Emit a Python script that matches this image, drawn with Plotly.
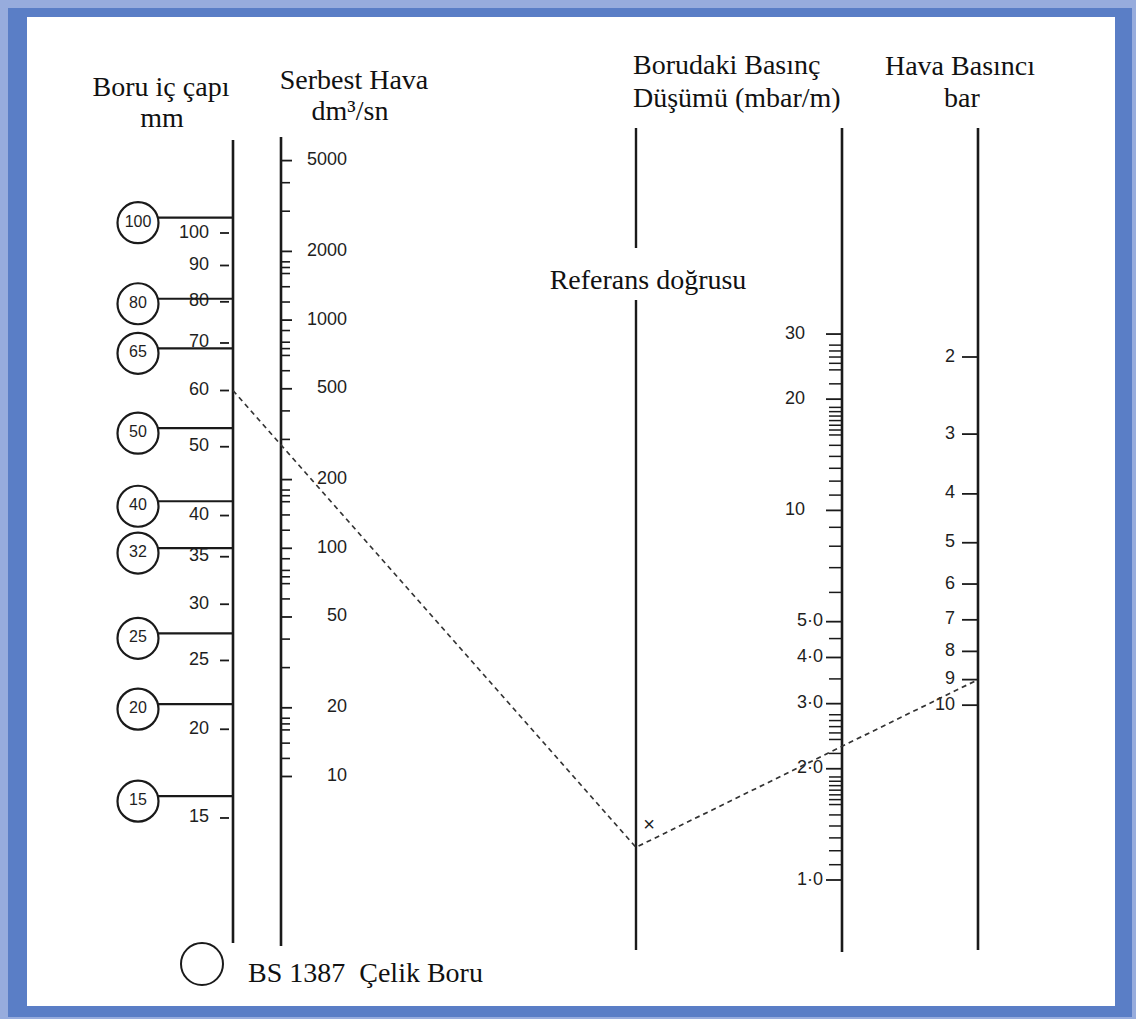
import numpy as np
import plotly.graph_objects as go

# ---------------- data ----------------
# Boru iç çapı (mm) scale labels
pipe_label_vals = [100, 90, 80, 70, 60, 50, 40, 35, 30, 25, 20, 15]
# BS 1387 nominal sizes and their inner diameters (mm)
pipe_nominal = ["100", "80", "65", "50", "40", "32", "25", "20", "15"]
pipe_inner_mm = [105.1, 80.8, 68.8, 53.1, 41.9, 36.0, 27.3, 21.7, 16.1]

# Serbest Hava (dm3/sn) scale
flow_label_vals = [5000, 2000, 1000, 500, 200, 100, 50, 20, 10]
flow_minor_vals = [4000, 3000, 1800, 1700, 1600, 1400, 1200,
                   900, 800, 750, 700, 600, 400, 300,
                   180, 170, 160, 140, 120,
                   90, 80, 75, 70, 60, 40, 30,
                   18, 17, 16, 14, 12]

# Borudaki Basınç Düşümü (mbar/m) scale
drop_label_vals = [30, 20, 10, 5, 4, 3, 2, 1]
drop_label_text = ["30", "20", "10", "5·0", "4·0", "3·0", "2·0", "1·0"]
drop_minor_vals = [28, 27, 26, 25, 24, 22,
                   19, 18.5, 18, 17.5, 17, 16.5, 16, 15, 14, 13, 12, 11,
                   9, 8, 7, 6, 4.5, 3.5,
                   2.8, 2.7, 2.6, 2.5, 2.4, 2.2,
                   1.9, 1.85, 1.8, 1.75, 1.7, 1.65, 1.6, 1.5, 1.4, 1.3, 1.2, 1.1]

# Hava Basıncı (bar) scale
press_label_vals = [2, 3, 4, 5, 6, 7, 8, 9, 10]

# worked example (dashed line)
example_diameter = 60
example_drop = 2.3
example_pressure = 9

# ---------------- geometry ----------------
W, H = 1136, 1019
X_PIPE, X_FLOW, X_REF, X_DROP, X_PRESS = 233, 281, 636, 842, 978


def y_pipe(v):
    return 233 - 710 * (np.log10(v) - 2)


def y_flow(v):
    return 472.3 - 228.2 * (np.log10(v) - 2.333)


def y_drop(v):
    return 880 - 369.6 * np.log10(v)


def y_press(v):
    return 357 + 617 * np.log10((v + 1) / 3)


INK = "#1a1a1a"
SANS = "Liberation Sans, Arial, sans-serif"
SERIF = "Liberation Serif, Times New Roman, serif"
LBL = 18
HDR = 28

fig = go.Figure()


def add_lines(xs, ys, width, color=INK, dash=None):
    fig.add_trace(go.Scatter(x=xs, y=ys, mode="lines",
                             line=dict(color=color, width=width, dash=dash),
                             hoverinfo="skip", showlegend=False))


def tick_segments(vals, yfun, x0, x1):
    xs, ys = [], []
    for v in vals:
        y = float(yfun(v))
        xs += [x0, x1, None]
        ys += [y, y, None]
    return xs, ys


def add_text(xs, ys, texts, pos, size, family, color="#1e1e1e"):
    fig.add_trace(go.Scatter(x=xs, y=ys, mode="text", text=texts,
                             textposition=pos,
                             textfont=dict(size=size, family=family, color=color),
                             hoverinfo="skip", showlegend=False))


# ---- vertical scale lines ----
add_lines([X_PIPE, X_PIPE], [140, 943], 2.6)
add_lines([X_FLOW, X_FLOW], [137, 946], 2.6)
add_lines([X_REF, X_REF, None, X_REF, X_REF], [128, 248, None, 300, 950], 2.4)
add_lines([X_DROP, X_DROP], [128, 952], 2.6)
add_lines([X_PRESS, X_PRESS], [128, 950], 2.6)

# ---- pipe diameter scale ----
xs, ys = tick_segments(pipe_label_vals, y_pipe, 220, 229)
add_lines(xs, ys, 1.8)
add_text([209] * len(pipe_label_vals), [float(y_pipe(v)) for v in pipe_label_vals],
         [str(v) for v in pipe_label_vals], "middle left", LBL, SANS)

# nominal size markers
xs, ys = tick_segments(pipe_inner_mm, y_pipe, 158, X_PIPE)
add_lines(xs, ys, 2.2)
cy = [float(y_pipe(v)) + 5 for v in pipe_inner_mm]
fig.add_trace(go.Scatter(x=[138] * len(cy), y=cy, mode="markers+text",
                         marker=dict(symbol="circle-open", size=41,
                                     line=dict(color=INK, width=2.2), color=INK),
                         text=pipe_nominal, textposition="middle center",
                         textfont=dict(size=16, family=SANS, color="#1e1e1e"),
                         hoverinfo="skip", showlegend=False))

# ---- free air flow scale ----
xs, ys = tick_segments(flow_label_vals, y_flow, X_FLOW, 292)
add_lines(xs, ys, 1.8)
xs, ys = tick_segments(flow_minor_vals, y_flow, X_FLOW, 290)
add_lines(xs, ys, 1.6)
add_text([347] * len(flow_label_vals), [float(y_flow(v)) for v in flow_label_vals],
         [str(v) for v in flow_label_vals], "middle left", LBL, SANS)

# ---- pressure drop scale ----
xs, ys = tick_segments(drop_label_vals, y_drop, 826, X_DROP)
add_lines(xs, ys, 1.8)
xs, ys = tick_segments(drop_minor_vals, y_drop, 829, X_DROP)
add_lines(xs, ys, 1.5)
big = [v >= 10 for v in drop_label_vals]
add_text([805 if b else 823 for b in big], [float(y_drop(v)) for v in drop_label_vals],
         drop_label_text, "middle left", LBL, SANS)

# ---- air pressure scale ----
xs, ys = tick_segments(press_label_vals, y_press, 962, X_PRESS)
add_lines(xs, ys, 1.8)
add_text([955] * len(press_label_vals), [float(y_press(v)) for v in press_label_vals],
         [str(v) for v in press_label_vals], "middle left", LBL, SANS)

# ---- worked example: dashed construction line ----
pA = (X_PIPE, float(y_pipe(example_diameter)))
pC = (X_PRESS, float(y_press(example_pressure)))
pD = (X_DROP, float(y_drop(example_drop)))
slope = (pD[1] - pC[1]) / (pD[0] - pC[0])
pB = (X_REF, pC[1] + slope * (X_REF - pC[0]))
add_lines([pA[0], pB[0], pC[0]], [pA[1], pB[1], pC[1]], 1.7, color="#333", dash="5px,4px")
add_text([pB[0] + 13], [pB[1] - 21], ["×"], "middle center", 20, SANS)

# ---- headers ----
add_text([161], [89], ["Boru iç çapı"], "middle center", HDR, SERIF, "#111")
add_text([162], [120], ["mm"], "middle center", HDR, SERIF, "#111")
add_text([354], [82], ["Serbest Hava"], "middle center", HDR, SERIF, "#111")
add_text([350], [113], ["dm³/sn"], "middle center", HDR, SERIF, "#111")
add_text([633], [67], ["Borudaki Basınç"], "middle right", HDR, SERIF, "#111")
add_text([633], [100], ["Düşümü (mbar/m)"], "middle right", HDR, SERIF, "#111")
add_text([960], [68], ["Hava Basıncı"], "middle center", HDR, SERIF, "#111")
add_text([962], [100], ["bar"], "middle center", HDR, SERIF, "#111")
add_text([648], [282], ["Referans doğrusu"], "middle center", HDR, SERIF, "#111")

# ---- legend note ----
fig.add_trace(go.Scatter(x=[202], y=[964], mode="markers",
                         marker=dict(symbol="circle-open", size=42,
                                     line=dict(color=INK, width=2), color=INK),
                         hoverinfo="skip", showlegend=False))
add_text([248], [975], ["BS 1387\u00a0\u00a0Çelik Boru"], "middle right", HDR, SERIF, "#111")

# ---- frame ----
shapes = [
    dict(type="rect", xref="x", yref="y", x0=8, y0=8, x1=1132, y1=1017,
         fillcolor="#5a7ec6", line=dict(width=0), layer="below"),
    dict(type="rect", xref="x", yref="y", x0=27, y0=17, x1=1115, y1=1006,
         fillcolor="white", line=dict(width=0), layer="below"),
]

fig.update_layout(
    width=W, height=H,
    margin=dict(l=0, r=0, t=0, b=0),
    paper_bgcolor="#97acdd",
    plot_bgcolor="#97acdd",
    shapes=shapes,
    xaxis=dict(range=[0, W], visible=False, fixedrange=True),
    yaxis=dict(range=[H, 0], visible=False, fixedrange=True),
    showlegend=False,
)

fig.write_html("out.html",
               config={"displayModeBar": False},
               post_script="document.body.style.margin='0';document.body.style.overflow='hidden';")
